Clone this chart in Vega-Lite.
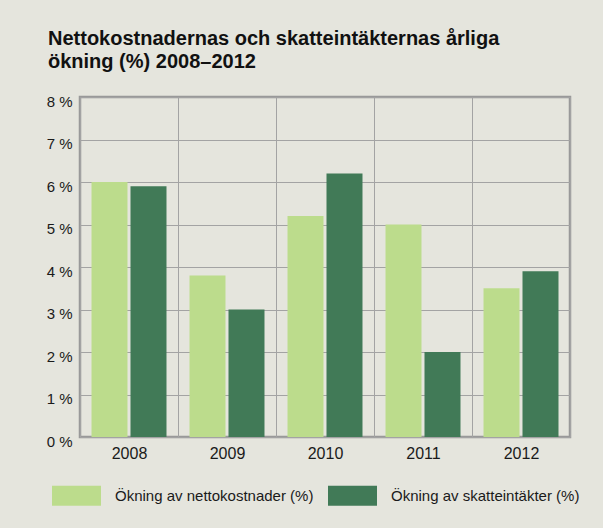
{
  "$schema": "https://vega.github.io/schema/vega-lite/v6.json",
  "autosize": {"type": "none"},
  "width": 490,
  "height": 340,
  "padding": {"left": 80, "top": 97, "right": 33, "bottom": 91},
  "background": "#e5e5dd",
  "title": {
    "text": ["Nettokostnadernas och skatteintäkternas årliga", "ökning (%) 2008–2012"],
    "anchor": "start",
    "frame": "group",
    "font": "Liberation Sans",
    "fontSize": 20,
    "fontWeight": "bold",
    "color": "#111111",
    "lineHeight": 23,
    "dx": -32,
    "offset": 22
  },
  "data": {
    "values": [
      {"year": "2008", "series": "Ökning av nettokostnader (%)", "value": 6.0},
      {"year": "2008", "series": "Ökning av skatteintäkter (%)", "value": 5.9},
      {"year": "2009", "series": "Ökning av nettokostnader (%)", "value": 3.8},
      {"year": "2009", "series": "Ökning av skatteintäkter (%)", "value": 3.0},
      {"year": "2010", "series": "Ökning av nettokostnader (%)", "value": 5.2},
      {"year": "2010", "series": "Ökning av skatteintäkter (%)", "value": 6.2},
      {"year": "2011", "series": "Ökning av nettokostnader (%)", "value": 5.0},
      {"year": "2011", "series": "Ökning av skatteintäkter (%)", "value": 2.0},
      {"year": "2012", "series": "Ökning av nettokostnader (%)", "value": 3.5},
      {"year": "2012", "series": "Ökning av skatteintäkter (%)", "value": 3.9}
    ]
  },
  "mark": {"type": "bar"},
  "encoding": {
    "x": {
      "field": "year",
      "type": "nominal",
      "scale": {"paddingInner": 0, "paddingOuter": 0},
      "axis": {
        "title": null,
        "labelAngle": 0,
        "labelFont": "Liberation Sans",
        "labelFontSize": 16,
        "labelColor": "#1a1a1a",
        "labelPadding": 8,
        "ticks": false,
        "domain": false,
        "grid": true,
        "tickBand": "extent",
        "gridColor": "#a3a3a3",
        "gridWidth": 1
      }
    },
    "xOffset": {
      "field": "series",
      "type": "nominal",
      "scale": {"paddingInner": 0.077, "paddingOuter": 0.295}
    },
    "y": {
      "field": "value",
      "type": "quantitative",
      "scale": {"domain": [0, 8], "nice": false},
      "axis": {
        "title": null,
        "values": [0, 1, 2, 3, 4, 5, 6, 7, 8],
        "labelExpr": "datum.value + ' %'",
        "labelFont": "Liberation Sans",
        "labelFontSize": 15,
        "labelColor": "#1a1a1a",
        "labelPadding": 8,
        "labelOffset": 4,
        "labelBaseline": "middle",
        "ticks": false,
        "domain": false,
        "grid": true,
        "gridColor": "#a3a3a3",
        "gridWidth": 1
      }
    },
    "color": {
      "field": "series",
      "type": "nominal",
      "scale": {
        "domain": ["Ökning av nettokostnader (%)", "Ökning av skatteintäkter (%)"],
        "range": ["#bcdc8c", "#417a57"]
      },
      "legend": {
        "title": null,
        "orient": "none",
        "direction": "horizontal",
        "legendX": -28,
        "legendY": 374,
        "padding": 0,
        "symbolType": "M-1,-0.408H1V0.408H-1Z",
        "symbolSize": 2401,
        "symbolStrokeWidth": 0,
        "symbolOpacity": 1,
        "labelFont": "Liberation Sans",
        "labelFontSize": 15,
        "labelColor": "#1a1a1a",
        "labelOffset": 14,
        "columnPadding": 14,
        "labelLimit": 400
      }
    }
  },
  "config": {
    "view": {"stroke": "#999999", "strokeWidth": 2.5}
  }
}
